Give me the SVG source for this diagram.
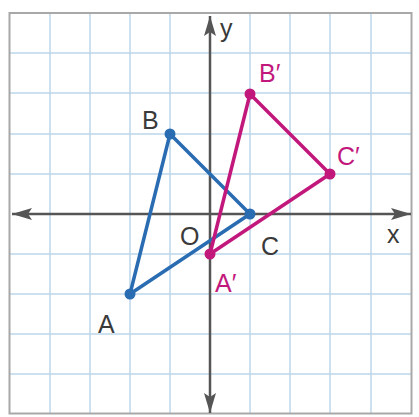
<svg xmlns="http://www.w3.org/2000/svg" width="419" height="417" viewBox="0 0 419 417">
<defs>
<style>
.grid{stroke:#bdd6ea;stroke-width:1.5;fill:none}
.axis{stroke:#555;stroke-width:2.5;fill:none}
.lbl{font-family:"Liberation Sans",Arial,sans-serif;font-size:25px;fill:#3a3a3a}
.blue{stroke:#2a6cb2;stroke-width:3.5;fill:none;stroke-linejoin:round}
.mag{stroke:#c2187c;stroke-width:3.5;fill:none;stroke-linejoin:round}
.bdot{fill:#2a6cb2}
.mdot{fill:#c2187c}
.mlbl{font-family:"Liberation Sans",Arial,sans-serif;font-size:25px;fill:#c2187c}
</style>
<marker id="ah" viewBox="0 0 20 12" refX="20" refY="6" markerWidth="20" markerHeight="12" markerUnits="userSpaceOnUse" orient="auto-start-reverse">
<path d="M0,0 L20,6 L0,12 L4,6 Z" fill="#555"/>
</marker>
</defs>
<rect width="419" height="417" fill="#fff"/>
<g id="grid">
<path class="grid" d="M50,13V414M90,13V414M130,13V414M170,13V414M250,13V414M290,13V414M330,13V414M371,13V414M9,53H411M9,93H411M9,134H411M9,174H411M9,254H411M9,294H411M9,334H411M9,374H411"/>
<rect x="9.5" y="13" width="402" height="400.5" fill="none" stroke="#a8a8a8" stroke-width="2"/>
</g>
<g id="axes">
<line class="axis" x1="12" y1="214" x2="411" y2="214" marker-start="url(#ah)" marker-end="url(#ah)"/>
<line class="axis" x1="210" y1="16" x2="210" y2="413" marker-start="url(#ah)" marker-end="url(#ah)"/>
<text class="lbl" x="220" y="37">y</text>
<text class="lbl" x="387" y="243">x</text>
<text class="lbl" x="180" y="245">O</text>
</g>
<g id="connectors">
<polygon class="blue" points="130,294 170,134 250,214"/>
<polygon class="mag" points="210,254 250,94 330,174"/>
</g>
<g id="A"><circle class="bdot" cx="130" cy="294" r="5.5"/><text class="lbl" x="98" y="333">A</text></g>
<g id="B"><circle class="bdot" cx="170" cy="134" r="5.5"/><text class="lbl" x="142" y="129">B</text></g>
<g id="C"><circle class="bdot" cx="250" cy="214" r="5.5"/><text class="lbl" x="261" y="255">C</text></g>
<g id="A1"><circle class="mdot" cx="210" cy="254" r="5.5"/><text class="mlbl" x="215" y="292">A′</text></g>
<g id="B1"><circle class="mdot" cx="250" cy="94" r="5.5"/><text class="mlbl" x="259" y="82">B′</text></g>
<g id="C1"><circle class="mdot" cx="330" cy="174" r="5.5"/><text class="mlbl" x="337" y="165">C′</text></g>
</svg>
